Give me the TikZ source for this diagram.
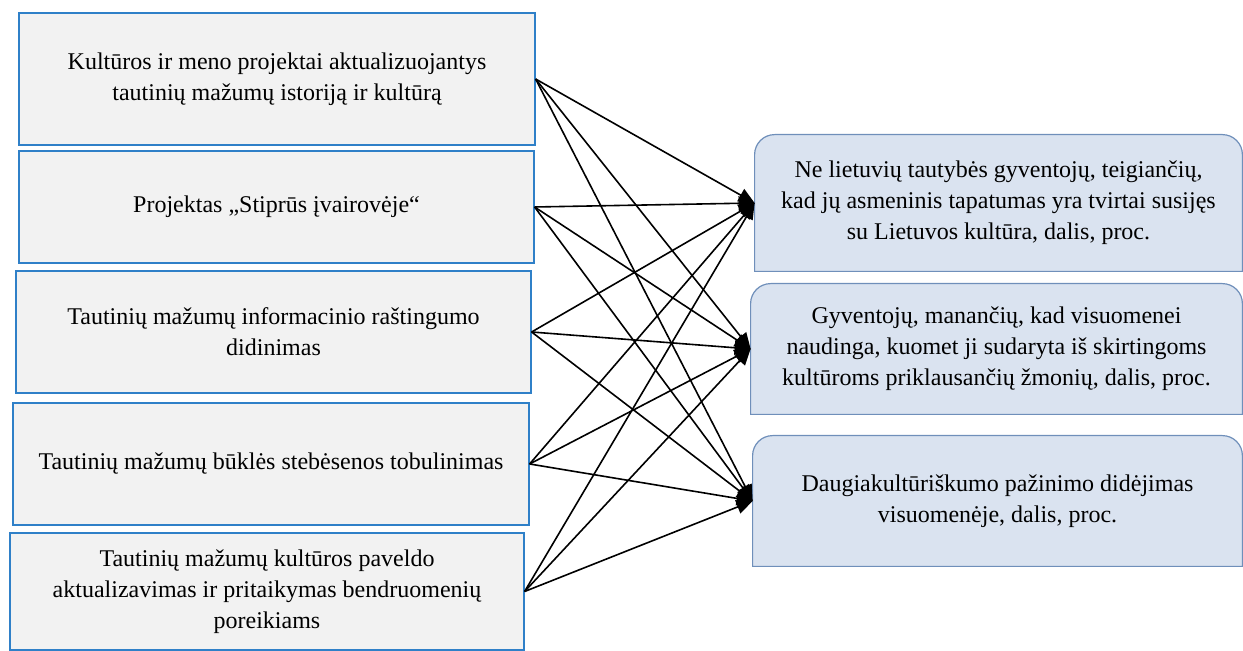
\documentclass[tikz,border=0pt]{standalone}
\usepackage{fontspec}
\setmainfont{Liberation Serif}
\usetikzlibrary{arrows.meta}
\definecolor{lfill}{HTML}{F2F2F2}
\definecolor{ldraw}{HTML}{2F80C8}
\definecolor{rfill}{HTML}{DAE3F0}
\definecolor{rdraw}{HTML}{6F8FBA}
\newcommand{\topround}[1]{%
  \draw[rbox] (#1.south west) -- ([yshift=-10pt]#1.north west)
    arc[start angle=180,end angle=90,radius=10pt] -- ([xshift=-10pt]#1.north east)
    arc[start angle=90,end angle=0,radius=10pt] -- (#1.south east) -- cycle;}

\begin{document}
\begin{tikzpicture}
[x=0.5pt,y=-0.5pt,every node/.style={font=\fontsize{12}{15.5}\selectfont,align=center,inner sep=0pt}]
\tikzset{lbox/.style = {shape=rectangle,draw=ldraw,fill=lfill,line width=0.6pt}}
\tikzset{rbox/.style = {draw=rdraw,fill=rfill,line width=0.6pt}}
\tikzset{edge/.style = {-{Triangle[length=8pt,width=7pt]},line width=0.8pt,black}}
\useasboundingbox (0,0) rectangle (1243,651);
  \node[lbox,minimum width=258pt,minimum height=66pt] (l1) at (277,79)
    {Kultūros ir meno projektai aktualizuojantys\\tautinių mažumų istoriją ir kultūrą};
  \node[lbox,minimum width=257.5pt,minimum height=56pt] (l2) at (276.5,207)
    {Projektas „Stiprūs įvairovėje“};
  \node[lbox,minimum width=257.5pt,minimum height=61pt] (l3) at (273.5,332)
    {Tautinių mažumų informacinio raštingumo\\didinimas};
  \node[lbox,minimum width=258pt,minimum height=61pt] (l4) at (271,464)
    {Tautinių mažumų būklės stebėsenos tobulinimas};
  \node[lbox,minimum width=257pt,minimum height=58.5pt] (l5) at (267,591.5)
    {Tautinių mažumų kultūros paveldo\\aktualizavimas ir pritaikymas bendruomenių\\poreikiams};
  % right boxes, frames drawn after
  \node[minimum width=243.5pt,minimum height=68pt] (r1) at (998.5,203) {};
  \node[minimum width=245.5pt,minimum height=65pt] (r2) at (996.5,349) {};
  \node[minimum width=244.5pt,minimum height=65pt] (r3) at (997.5,501) {};
  \topround{r1}
  \topround{r2}
  \topround{r3}
  \node at (r1) {Ne lietuvių tautybės gyventojų, teigiančių,\\kad jų asmeninis tapatumas yra tvirtai susijęs\\su Lietuvos kultūra, dalis, proc.};
  \node at (r2) {Gyventojų, manančių, kad visuomenei\\naudinga, kuomet ji sudaryta iš skirtingoms\\kultūroms priklausančių žmonių, dalis, proc.};
  \node at (r3) {Daugiakultūriškumo pažinimo didėjimas\\visuomenėje, dalis, proc.};
\draw[edge] (l1.east) -- (r1.west);
\draw[edge] (l1.east) -- (r2.west);
\draw[edge] (l1.east) -- (r3.west);
\draw[edge] (l2.east) -- (r1.west);
\draw[edge] (l2.east) -- (r2.west);
\draw[edge] (l2.east) -- (r3.west);
\draw[edge] (l3.east) -- (r1.west);
\draw[edge] (l3.east) -- (r2.west);
\draw[edge] (l3.east) -- (r3.west);
\draw[edge] (l4.east) -- (r1.west);
\draw[edge] (l4.east) -- (r2.west);
\draw[edge] (l4.east) -- (r3.west);
\draw[edge] (l5.east) -- (r1.west);
\draw[edge] (l5.east) -- (r2.west);
\draw[edge] (l5.east) -- (r3.west);
\end{tikzpicture}
\end{document}
